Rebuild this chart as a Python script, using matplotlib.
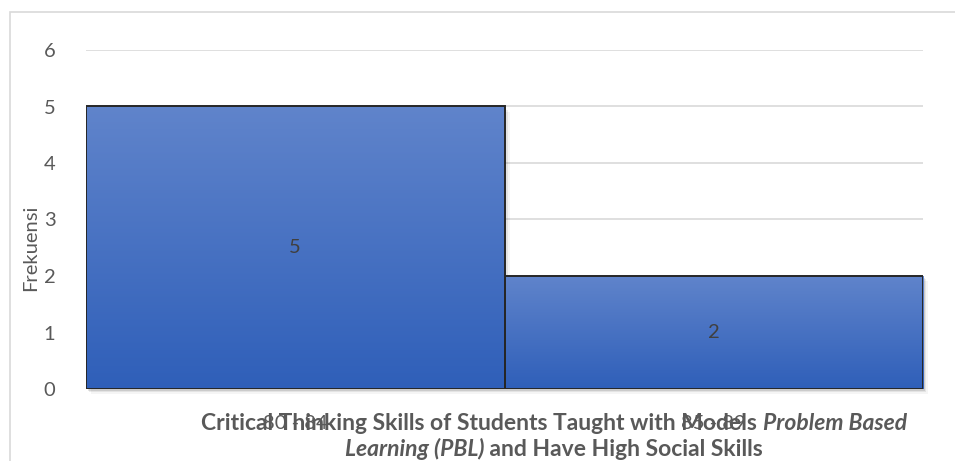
import numpy as np
import matplotlib
matplotlib.use("Agg")
import matplotlib.pyplot as plt
from matplotlib.patches import Rectangle

plt.rcParams["font.family"] = ["Lato", "DejaVu Sans"]

# frequency table
classes = ["80 - 84", "85 - 89"]
freq = [5, 2]
y_ticks = [0, 1, 2, 3, 4, 5, 6]

title_lines = [
    [("Critical Thinking Skills of Students Taught with Models ", "normal"),
     ("Problem Based", "italic")],
    [("Learning (PBL)", "italic"),
     (" and Have High Social Skills", "normal")],
]

TEXT = "#595959"
W, H = 955, 461

fig = plt.figure(figsize=(W / 100, H / 100), dpi=100)
ax = fig.add_axes([86 / W, 1 - 389 / H, (923 - 86) / W, (389 - 50) / H])

# outer chart frame
fig.patches.append(Rectangle((10 / W, -0.05), 1.0, 1 - 12 / H + 0.05,
                             transform=fig.transFigure, fill=False,
                             edgecolor="#d9d9d9", linewidth=1.2, zorder=0))

x = np.arange(len(classes))
bars = ax.bar(x, freq, width=1.0, color="none", edgecolor="#262626",
              linewidth=1.4, zorder=4)

# vertical gradient fill clipped to each bar, plus a soft shadow
grad = np.linspace(0, 1, 256).reshape(-1, 1)
cmap = matplotlib.colors.LinearSegmentedColormap.from_list(
    "bar", ["#2f5fb9", "#6084cb"])
for b in bars:
    x0, w, h = b.get_x(), b.get_width(), b.get_height()
    for k, a in enumerate([0.10, 0.07, 0.04]):
        ax.add_patch(Rectangle((x0 + 0.004 * (k + 1), -0.03 * (k + 1)), w, h,
                               facecolor="black", alpha=a, edgecolor="none",
                               zorder=2, clip_on=False))
    im = ax.imshow(grad, extent=[x0, x0 + w, 0, h], origin="lower",
                   cmap=cmap, aspect="auto", zorder=3)
    im.set_clip_path(b)
    ax.text(x0 + w / 2, h / 2, f"{h:g}", ha="center", va="center",
            fontsize=14.5, color="#404040", zorder=5)

ax.set_xlim(-0.5, len(classes) - 0.5)
ax.set_ylim(0, 6)
ax.set_yticks(y_ticks)
ax.set_xticks(x)
ax.set_xticklabels(classes)
ax.tick_params(axis="both", length=0, labelsize=14.5, labelcolor=TEXT)
ax.tick_params(axis="y", pad=22)
ax.tick_params(axis="x", pad=19)
ax.grid(axis="y", color="#d9d9d9", linewidth=1.2, zorder=0)
ax.set_axisbelow(True)
for s in ax.spines.values():
    s.set_visible(False)
ax.set_ylabel("Frekuensi", fontsize=14.5, color=TEXT)
ax.yaxis.set_label_coords(-47 / (923 - 86), 0.416)

# x-axis title with mixed bold / bold-italic runs, centred on each line
fig.canvas.draw()
renderer = fig.canvas.get_renderer()
cx = 554
for line, ypx in zip(title_lines, [423, 449]):
    pieces = []
    for txt, style in line:
        t = fig.text(0, 1 - ypx / H, txt, fontsize=16.5, fontweight="bold",
                     style=style, color=TEXT, va="center", ha="left")
        pieces.append(t)
    widths = [p.get_window_extent(renderer).width for p in pieces]
    left = cx - sum(widths) / 2
    for p, wd in zip(pieces, widths):
        p.set_x(left / W)
        left += wd

fig.savefig("out.png", dpi=100)
